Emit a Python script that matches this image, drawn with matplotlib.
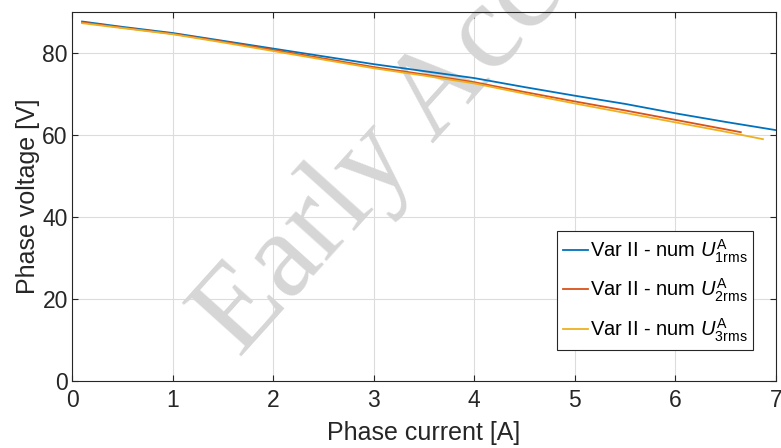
import numpy as np
import matplotlib.pyplot as plt

plt.rcParams['font.family'] = ['Liberation Sans', 'DejaVu Sans']
plt.rcParams['mathtext.fontset'] = 'custom'
plt.rcParams['mathtext.rm'] = 'Liberation Sans'
plt.rcParams['mathtext.it'] = 'Liberation Sans:italic'

# values
i1 = [0.1, 0.5, 1.0, 1.5, 2.0, 2.5, 3.0, 3.5, 4.0, 4.5, 5.0, 5.5, 6.0, 6.5, 7.0]
u1 = [87.7, 86.4, 84.9, 83.0, 81.1, 79.2, 77.3, 75.6, 73.9, 71.7, 69.6, 67.6, 65.3, 63.2, 61.2]

i2 = [0.1, 0.5, 1.0, 1.5, 2.0, 2.5, 3.0, 3.5, 4.0, 4.5, 5.0, 5.5, 6.0, 6.65]
u2 = [87.5, 86.2, 84.7, 82.8, 80.8, 78.7, 76.6, 74.8, 72.9, 70.5, 68.2, 66.0, 63.7, 60.7]

i3 = [0.1, 0.5, 1.0, 1.5, 2.0, 2.5, 3.0, 3.5, 4.0, 4.5, 5.0, 5.5, 6.0, 6.5, 6.87]
u3 = [87.3, 86.1, 84.6, 82.6, 80.5, 78.4, 76.3, 74.5, 72.6, 70.1, 67.7, 65.4, 63.1, 60.8, 59.0]

labels = [r'Var II - num $U^{\rm A}_{\rm 1rms}$',
          r'Var II - num $U^{\rm A}_{\rm 2rms}$',
          r'Var II - num $U^{\rm A}_{\rm 3rms}$']
colors = ['#0072BD', '#D95319', '#EDB120']

fig = plt.figure(figsize=(7.81, 4.48), dpi=100)
ax = fig.add_axes([0.0922, 0.1496, 0.9014, 0.8234])

for x, y, lab, c in zip([i1, i2, i3], [u1, u2, u3], labels, colors):
    ax.plot(x, y, color=c, lw=1.3, label=lab, zorder=3)

ax.set_xlim(0, 7)
ax.set_ylim(0, 90)
ax.set_xticks(np.arange(0, 8, 1))
ax.set_yticks(np.arange(0, 90, 20))
ax.grid(True, color='#dcdcdc', lw=0.8)
ax.set_axisbelow(True)
ax.tick_params(direction='in', top=True, right=True, labelsize=16.5, colors='#262626',
               length=4)
ax.tick_params(axis='x', pad=6)
ax.tick_params(axis='y', pad=3)
for s in ax.spines.values():
    s.set_color('#262626')
    s.set_linewidth(0.8)
ax.set_xlabel('Phase current [A]', fontsize=18, color='#262626', labelpad=6)
ax.set_ylabel('Phase voltage [V]', fontsize=18, color='#262626', labelpad=2)

leg = ax.legend(loc='lower right', bbox_to_anchor=(0.968, 0.085), fontsize=14.5,
                handlelength=1.2, handletextpad=0.1, borderpad=0.3,
                labelspacing=0.6, fancybox=False, framealpha=1, borderaxespad=0)
leg.get_frame().set_edgecolor('#262626')
leg.get_frame().set_linewidth(0.8)
leg.set_zorder(5)

# watermark, above the grid but under the curves
ax.text(0.55, 0.77, 'Early Access', fontsize=88, family='Liberation Serif',
        color='#d6d6d6', rotation=48, ha='center', va='center',
        transform=fig.transFigure, clip_on=False, zorder=1.5)

fig.savefig('out.png', dpi=100)
